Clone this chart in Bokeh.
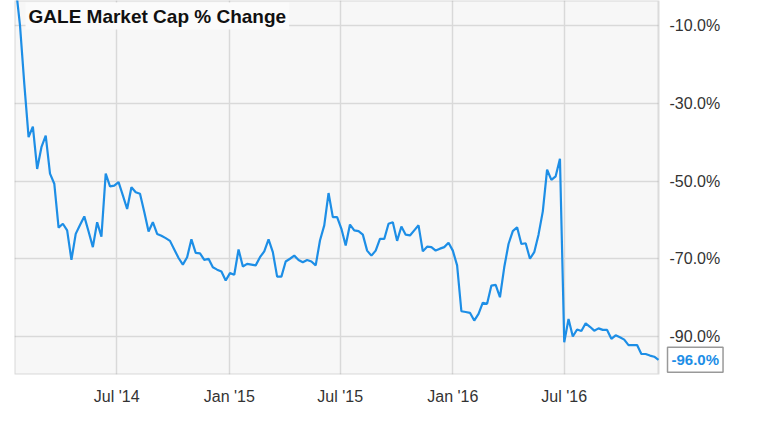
import pandas as pd
from bokeh.plotting import figure
from bokeh.models import (Range1d, Label, FixedTicker, PrintfTickFormatter,
                          DatetimeTickFormatter, ColumnDataSource, BoxAnnotation)
from bokeh.embed import file_html
from bokeh.resources import INLINE

# ---- data (weekly market-cap % change) ----
start_date = "2014-01-17"
end_date = "2016-12-02"
pct_change = [
    0.0, -10.0, -25.0, -38.7, -36.0, -46.9, -41.3, -38.3, -48.1, -50.7,
    -62.0, -61.0, -62.7, -70.3, -63.6, -61.3, -59.1, -63.0, -67.0, -60.6,
    -64.3, -48.1, -51.4, -51.2, -50.3, -53.7, -57.2, -51.6, -52.9, -53.3,
    -58.0, -63.0, -60.6, -63.6, -64.1, -64.7, -65.4, -67.6, -69.8, -71.5,
    -69.6, -65.0, -68.5, -68.6, -70.3, -70.0, -72.2, -72.8, -73.3, -75.6,
    -73.7, -74.1, -67.6, -72.0, -71.3, -71.5, -71.7, -69.6, -68.1, -65.0,
    -68.3, -74.6, -74.6, -70.7, -70.0, -69.2, -70.3, -70.9, -70.3, -70.7,
    -71.7, -65.3, -61.4, -53.1, -59.3, -59.3, -62.3, -66.6, -61.2, -62.7,
    -62.9, -63.8, -67.9, -69.2, -67.9, -64.9, -64.9, -61.0, -60.6, -65.4,
    -61.7, -63.8, -64.0, -62.7, -61.4, -68.1, -66.9, -67.0, -67.9, -67.4,
    -67.0, -65.9, -67.9, -71.7, -83.5, -83.7, -83.9, -85.9, -84.2, -81.3,
    -81.6, -76.9, -76.7, -79.9, -72.2, -66.2, -62.9, -61.9, -66.2, -66.0,
    -70.0, -68.3, -63.8, -57.8, -47.1, -49.7, -48.8, -44.3, -91.5, -85.5,
    -90.0, -88.2, -88.6, -86.6, -87.5, -88.5, -87.9, -88.3, -88.3, -90.6,
    -89.7, -90.2, -90.8, -92.2, -92.2, -92.2, -94.5, -94.5, -94.9, -95.2,
    -96.0,
]
title_text = "GALE Market Cap % Change"
last_label = "-96.0%"
y_ticks = [-10, -30, -50, -70, -90]
x_tick_dates = ["2014-07-01", "2015-01-01", "2015-07-01", "2016-01-01", "2016-07-01"]

dates = pd.date_range(start_date, end_date, freq="7D")
src = ColumnDataSource(data=dict(date=dates, pct=pct_change))

FONT = "Liberation Sans"
BLUE = "#1d8ee6"

def ms(d):
    return pd.Timestamp(d).value / 1e6

chart_start = ms("2014-01-15")
chart_end = ms(end_date)          # right edge of the plotting area
canvas_end = ms("2017-04-28")     # room on the right for the value tag and axis labels

p = figure(width=748, height=416, x_axis_type="datetime", y_axis_location="right",
           output_backend="svg", toolbar_location=None,
           x_range=Range1d(chart_start, canvas_end),
           y_range=Range1d(-99.77, -3.57),
           min_border_left=14, min_border_right=0, min_border_top=0, min_border_bottom=42)

p.background_fill_color = "white"
p.border_fill_color = "white"
p.outline_line_color = None

# plotting-area background
p.add_layout(BoxAnnotation(left=chart_start, right=chart_end, fill_color="#f7f7f7",
                           fill_alpha=1, line_color=None, level="image"))

x_ticks_ms = [ms(d) for d in x_tick_dates]
p.xaxis.ticker = FixedTicker(ticks=x_ticks_ms)
p.xaxis.formatter = DatetimeTickFormatter(months="%b '%y", days="%b '%y", years="%b '%y")
p.yaxis.ticker = FixedTicker(ticks=y_ticks)
p.yaxis.formatter = PrintfTickFormatter(format="%.1f%%")
p.yaxis.fixed_location = chart_end

for ax in (p.xaxis, p.yaxis):
    ax.axis_line_color = None
    ax.major_tick_line_color = None
    ax.minor_tick_line_color = None
    ax.major_label_text_font = FONT
    ax.major_label_text_font_size = "16px"
    ax.major_label_text_color = "#333333"
p.xaxis.major_label_standoff = 7
p.yaxis.major_label_standoff = 5

p.xgrid.ticker = FixedTicker(ticks=x_ticks_ms)
p.ygrid.ticker = FixedTicker(ticks=y_ticks)
for g in (p.xgrid, p.ygrid):
    g.grid_line_color = "#d9d9d9"
    g.grid_line_width = 1.5

# hide grid lines right of the plotting area, then draw its border
p.add_layout(BoxAnnotation(left=chart_end, right=canvas_end, fill_color="white",
                           fill_alpha=1, line_color=None, level="underlay"))
p.add_layout(BoxAnnotation(left=chart_start, right=chart_end, fill_alpha=0,
                           line_color="#8f8f8f", line_width=2, level="underlay"))

p.line("date", "pct", source=src, line_color=BLUE, line_width=2.2)

title = Label(x=ms("2014-02-02"), y=-4.1, text=title_text,
              text_baseline="top", text_font=FONT, text_font_style="bold",
              text_font_size="19px", text_color="#111111",
              background_fill_color="#fbfbfb", padding=3)
p.add_layout(title)

end_lab = Label(x=chart_end, y=pct_change[-1], text=last_label, x_offset=9,
                text_baseline="middle", text_font=FONT, text_font_style="bold",
                text_font_size="15px", text_color=BLUE,
                background_fill_color="white", border_line_color="#999999",
                border_line_width=1.5, padding=4, level="overlay")
p.add_layout(end_lab)

open("out.html", "w").write(file_html(p, INLINE))
